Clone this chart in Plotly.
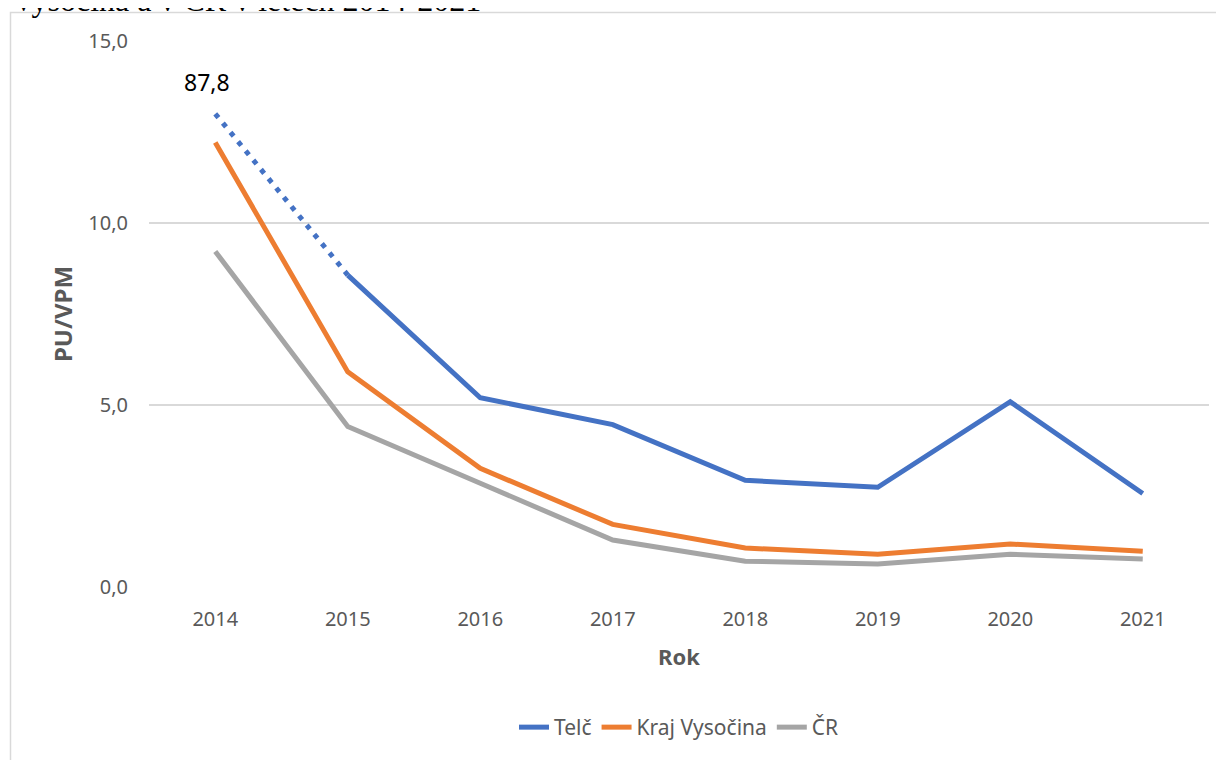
import plotly.graph_objects as go

roky = ["2014", "2015", "2016", "2017", "2018", "2019", "2020", "2021"]

# Telč - hodnota 2014 je 87,8, v grafu je useknuta na 13,0 (tecka)
telc = [13.0, 8.57, 5.20, 4.46, 2.93, 2.74, 5.09, 2.57]
telc_popisek = "87,8"
kraj_vysocina = [12.21, 5.91, 3.26, 1.72, 1.07, 0.90, 1.18, 0.98]
cr = [9.22, 4.41, 2.85, 1.29, 0.71, 0.63, 0.90, 0.77]

modra = "#4472C4"
oranzova = "#ED7D31"
seda = "#A5A5A5"
sedy_text = "#595959"
font = "Noto Sans"

# stranka ma body margin 8 px, proto je figura o 8 px mensi a posunuta
W, H = 1216, 752
L, T, R, B = 141, 33, 15, 171
PW, PH = W - L - R, H - T - B

fig = go.Figure()

# useknuty usek Telč (2014-2015) teckovane
fig.add_trace(go.Scatter(x=roky[:2], y=telc[:2], mode="lines", showlegend=False,
                         line=dict(color=modra, width=5, dash="5px,7px")))
fig.add_trace(go.Scatter(x=roky[1:], y=telc[1:], mode="lines", name="Telč",
                         line=dict(color=modra, width=5)))
fig.add_trace(go.Scatter(x=roky, y=kraj_vysocina, mode="lines", name="Kraj Vysočina",
                         line=dict(color=oranzova, width=5)))
fig.add_trace(go.Scatter(x=roky, y=cr, mode="lines", name="ČR",
                         line=dict(color=seda, width=5)))

fig.add_annotation(x=roky.index(roky[0]), y=telc[0], text=telc_popisek, showarrow=False,
                   yanchor="bottom", yshift=14, xshift=-8,
                   font=dict(family=font, size=23, color="black"))

# nadpis nad grafem (oriznuty horni hranou)
fig.add_annotation(xref="paper", yref="paper", x=(2 - L) / PW, y=1 + (T - 12) / PH,
                   xanchor="left", yanchor="bottom", showarrow=False,
                   text="Vysočina a v ČR v letech 2014-2021",
                   font=dict(family="Liberation Serif", size=32, color="black"))

# ramecek grafu
fig.add_shape(type="rect", xref="paper", yref="paper",
              x0=(2.5 - L) / PW, x1=1.2, y0=-0.5, y1=1 + (T - 4.5) / PH,
              line=dict(color="#D9D9D9", width=1.5), fillcolor="rgba(0,0,0,0)")

fig.update_layout(
    width=W, height=H,
    margin=dict(l=L, r=R, t=T, b=B),
    plot_bgcolor="white", paper_bgcolor="white",
    separators=", ",
    font=dict(family=font, size=20, color=sedy_text),
    legend=dict(orientation="h", x=0.5, xanchor="center", y=-141 / PH, yanchor="middle",
                font=dict(size=21, color=sedy_text)),
    showlegend=True,
)
fig.update_xaxes(type="category", range=[-0.5, 7.5], showgrid=False, showline=False,
                 zeroline=False, ticks="", ticklabelstandoff=18,
                 tickfont=dict(size=20, color=sedy_text),
                 title=dict(text="<b>Rok</b>", standoff=18, font=dict(size=22, color=sedy_text)))
fig.update_yaxes(range=[0, 15], dtick=5, tickformat=".1f", showgrid=True, gridcolor="#D9D9D9",
                 gridwidth=1.5, zeroline=False, showline=False, ticks="", ticklabelstandoff=20,
                 tickfont=dict(size=20, color=sedy_text),
                 title=dict(text="<b>PU/VPM</b>", standoff=8, font=dict(size=24, color=sedy_text)))

fig.write_html("out.html")
